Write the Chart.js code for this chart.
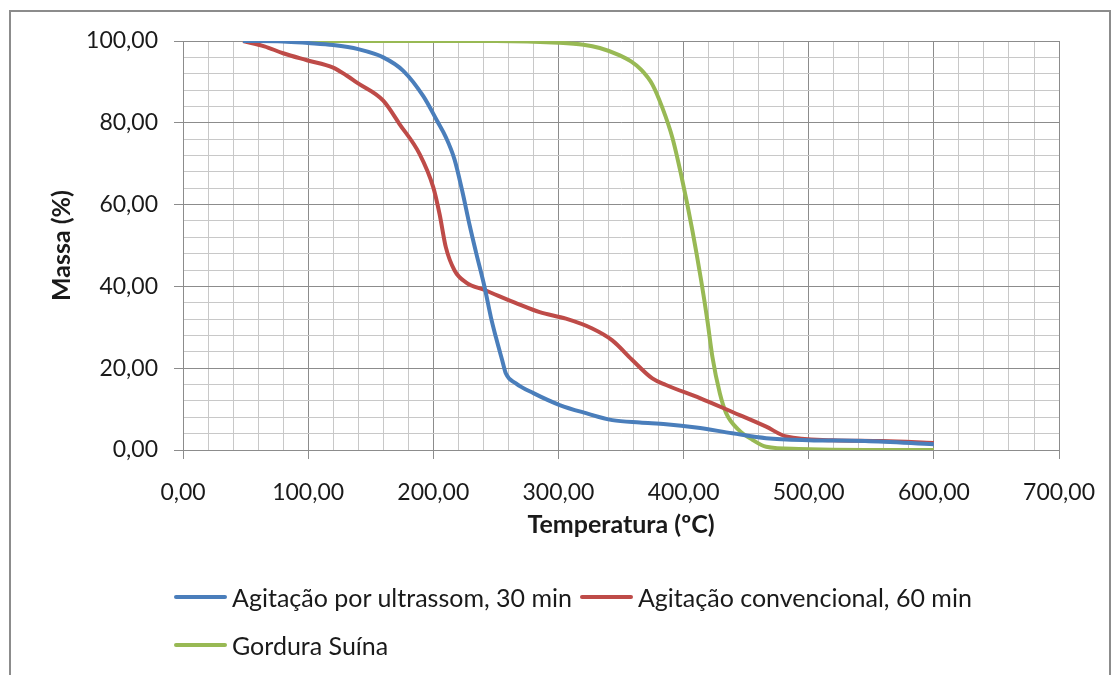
<!DOCTYPE html>
<html>
<head>
<meta charset="utf-8">
<script src="https://cdn.jsdelivr.net/npm/chart.js@4.4.1/dist/chart.umd.min.js"></script>
<style>
  html, body { margin: 0; padding: 0; background: #fff; }
  #wrap { position: relative; width: 1115px; height: 675px; overflow: hidden; }
  #frame { position: absolute; left: 9px; top: 10px; width: 1102px; height: 700px; border: 2px solid #8c8c8c; box-sizing: border-box; }
  #grafico { position: absolute; left: 0; top: 0; }
  #legenda { position: absolute; left: 174px; top: 580px; width: 850px; display: flex; flex-wrap: wrap; row-gap: 14px; column-gap: 8px;
             font-family: Lato, "Open Sans", sans-serif; font-size: 25px; color: #1a1a1a; }
  .item { display: flex; align-items: center; height: 34px; }
  .amostra { display: inline-block; width: 53px; height: 4px; margin-right: 5px; border-radius: 2px; }
</style>
</head>
<body>
<div id="wrap">
  <div id="frame"></div>
  <canvas id="grafico" width="1115" height="675"></canvas>
  <div id="legenda"></div>
</div>
<script>
// Dados (temperatura em ºC, massa em %)
const tempUltrassom = [48, 80, 100, 120, 140, 160, 176, 192, 203, 210, 217, 223, 229, 234, 241, 246, 250, 255, 258, 266, 280, 301, 322, 343, 365, 386, 410, 439, 466, 500, 545, 600];
const massaUltrassom = [100, 99.9, 99.5, 99, 98, 96, 92.7, 86.5, 80.5, 76.5, 71, 63.5, 55, 48.5, 39.8, 32.5, 27.6, 22, 18.7, 16.3, 13.9, 11, 9, 7.3, 6.7, 6.3, 5.5, 4.1, 2.9, 2.4, 2.2, 1.4];

const tempConvencional = [48, 65, 80, 99, 120, 131, 139, 160, 173, 189, 200, 205, 210, 217, 226, 242, 267, 285, 306, 327, 343, 359, 375, 386, 413, 439, 466, 482, 519, 559, 600];
const massaConvencional = [100, 98.7, 97, 95.3, 93.5, 91.5, 89.8, 85.4, 79.7, 72.4, 64.2, 57.7, 49.6, 43.9, 41, 39, 35.8, 33.7, 32.1, 29.7, 26.8, 22, 17.5, 15.9, 12.7, 9.3, 5.7, 3.3, 2.4, 2.2, 1.7];

const tempGordura = [48, 150, 250, 300, 320, 333, 349, 358, 366, 375, 383, 391, 399, 407, 414, 419, 423, 429, 434, 444, 455, 466, 492, 545, 600];
const massaGordura = [100, 100, 100, 99.6, 99.1, 98.3, 96.5, 95, 93, 89.4, 83.7, 76.4, 65.9, 53.7, 41.5, 31.7, 22.8, 13.8, 9, 4.9, 2.5, 0.8, 0.25, 0, 0];

const series = ['Agitação por ultrassom, 30 min', 'Agitação convencional, 60 min', 'Gordura Suína'];
const cores = ['#4a7ebb', '#be4b48', '#98b954'];

// Ticks dos eixos
const ticksX = [0, 100, 200, 300, 400, 500, 600, 700];
const ticksY = [0, 20, 40, 60, 80, 100];

function pontos(xs, ys) {
    return xs.map((x, i) => ({ x: x, y: ys[i] }));
}

function formatar(v) {
    return v.toFixed(2).replace('.', ',');
}

const dadosSeries = [
    pontos(tempUltrassom, massaUltrassom),
    pontos(tempConvencional, massaConvencional),
    pontos(tempGordura, massaGordura)
];

const fonte = 'Lato, "Open Sans", sans-serif';

const ctx = document.getElementById('grafico').getContext('2d');
const grafico = new Chart(ctx, {
    type: 'scatter',
    data: {
        datasets: series.map((nome, i) => ({
            label: nome,
            data: dadosSeries[i],
            showLine: true,
            borderColor: cores[i],
            backgroundColor: cores[i],
            borderWidth: 4,
            pointRadius: 0,
            cubicInterpolationMode: 'monotone'
        }))
    },
    options: {
        responsive: false,
        animation: false,
        layout: { padding: { top: 41, right: 55, bottom: 135, left: 0 } },
        plugins: {
            legend: { display: false },
            tooltip: { enabled: false }
        },
        scales: {
            x: {
                type: 'linear',
                min: 0,
                max: 700,
                afterFit: s => { s.height = 90; },
                ticks: {
                    stepSize: 20,
                    autoSkip: false,
                    maxRotation: 0,
                    padding: 20,
                    color: '#1a1a1a',
                    font: { family: fonte, size: 23 },
                    callback: v => ticksX.includes(v) ? formatar(v) : ''
                },
                grid: {
                    color: c => (c.tick && c.tick.value % 100 === 0) ? '#8c8c8c' : '#c8c8c8',
                    tickColor: c => (c.tick && c.tick.value % 100 === 0) ? '#8c8c8c' : 'rgba(0,0,0,0)',
                    tickLength: 9,
                    lineWidth: 1
                },
                border: { color: '#8c8c8c', width: 1 },
                title: {
                    display: true,
                    text: 'Temperatura (ºC)',
                    color: '#1a1a1a',
                    font: { family: fonte, size: 25, weight: 'bold' },
                    padding: { top: 0, bottom: 0 }
                }
            },
            y: {
                min: 0,
                max: 100,
                afterFit: s => { s.width = 183; },
                ticks: {
                    stepSize: 4,
                    autoSkip: false,
                    padding: 16,
                    color: '#1a1a1a',
                    font: { family: fonte, size: 23 },
                    callback: v => ticksY.includes(v) ? formatar(v) : ''
                },
                grid: {
                    color: c => (c.tick && c.tick.value % 20 === 0) ? '#8c8c8c' : '#c8c8c8',
                    tickColor: c => (c.tick && c.tick.value % 20 === 0) ? '#8c8c8c' : 'rgba(0,0,0,0)',
                    tickLength: 9,
                    lineWidth: 1
                },
                border: { color: '#8c8c8c', width: 1 },
                title: {
                    display: true,
                    text: 'Massa (%)',
                    color: '#1a1a1a',
                    font: { family: fonte, size: 25, weight: 'bold' },
                    padding: { top: 47, bottom: 0 }
                }
            }
        }
    }
});

// Legenda em HTML (segunda linha alinhada à esquerda, como no original)
const legenda = document.getElementById('legenda');
grafico.data.datasets.forEach(ds => {
    const item = document.createElement('div');
    item.className = 'item';
    const amostra = document.createElement('span');
    amostra.className = 'amostra';
    amostra.style.background = ds.borderColor;
    item.appendChild(amostra);
    item.appendChild(document.createTextNode(ds.label));
    legenda.appendChild(item);
});
</script>
</body>
</html>
